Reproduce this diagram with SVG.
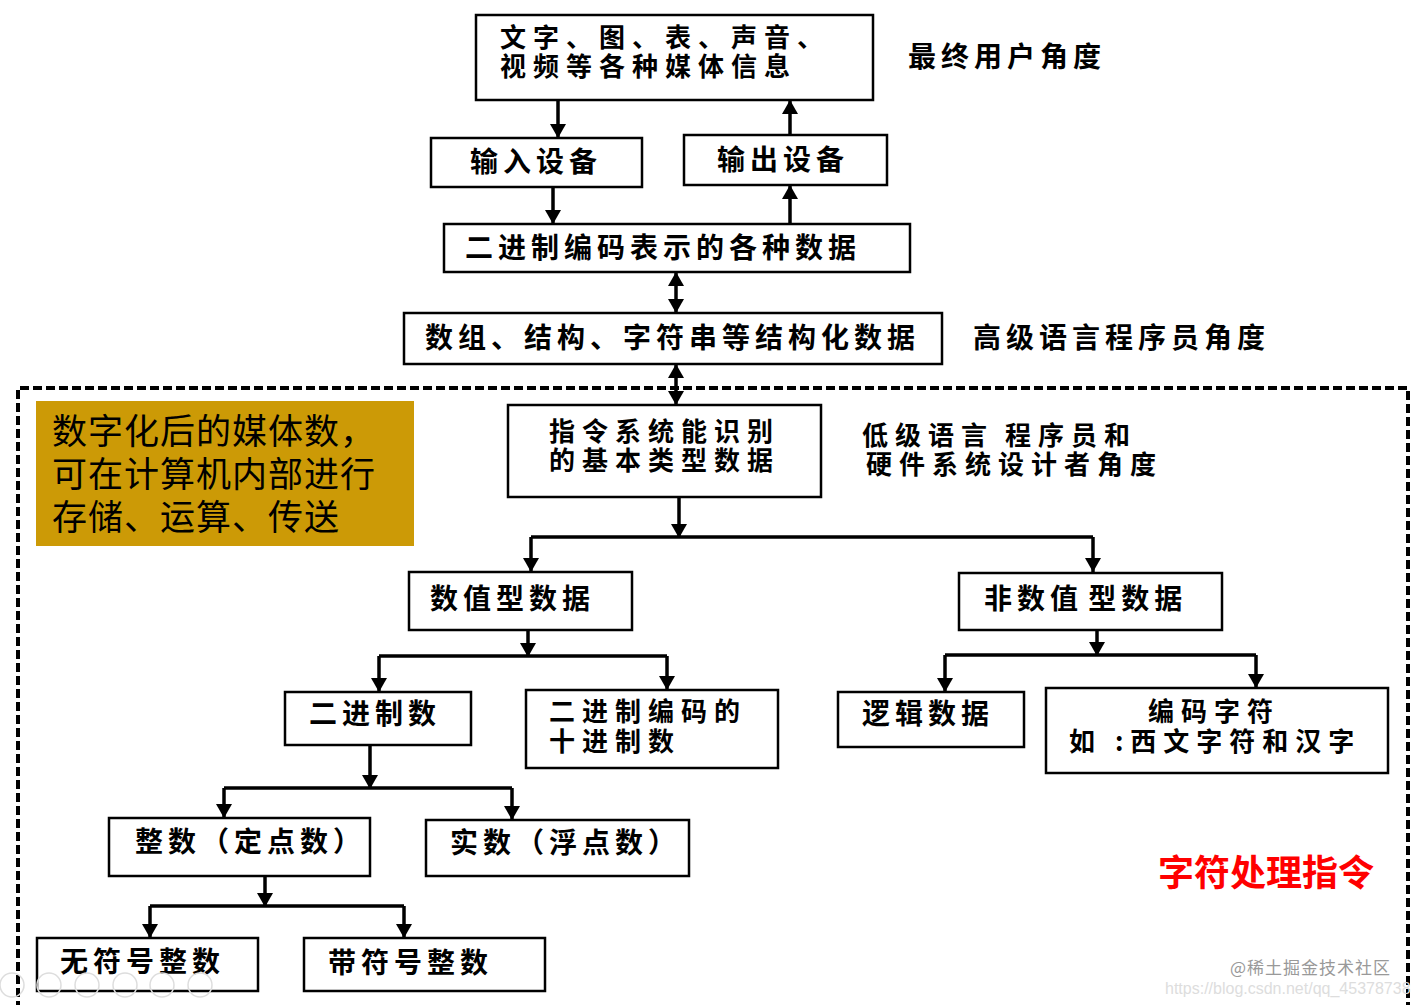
<svg xmlns="http://www.w3.org/2000/svg" width="1417" height="1005" viewBox="0 0 1417 1005">
<defs>
<marker id="ah" viewBox="0 0 14 16" refX="14" refY="8" markerWidth="14" markerHeight="16" markerUnits="userSpaceOnUse" orient="auto-start-reverse">
<path d="M0,0 L14,8 L0,16 z" fill="#000"/>
</marker>
<style>
.box{fill:#fff;stroke:#000;stroke-width:2.5}
.t{font-family:"Noto Sans CJK SC","Noto Sans",sans-serif;font-weight:bold;font-size:28px;letter-spacing:5px;fill:#000}
.t2{font-family:"Noto Sans CJK SC","Noto Sans",sans-serif;font-weight:bold;font-size:26px;letter-spacing:7px;fill:#000}
.n{font-family:"Noto Sans CJK SC",sans-serif;font-size:35px;letter-spacing:1px;fill:#000}
.c{fill:none;stroke:#000;stroke-width:3.5}
.a{fill:none;stroke:#000;stroke-width:3.5;marker-end:url(#ah)}
.d{fill:none;stroke:#000;stroke-width:3.5;marker-start:url(#ah);marker-end:url(#ah)}
</style>
</defs>
<rect width="1417" height="1005" fill="#fff"/>

<!-- dashed region -->
<path d="M18,1010 L18,388 L1408,388 L1408,1010" fill="none" stroke="#000" stroke-width="4" stroke-dasharray="9 4"/>

<g id="connectors">
<line class="a" x1="558" y1="100" x2="558" y2="138"/>
<line class="a" x1="790" y1="135" x2="790" y2="100"/>
<line class="a" x1="553" y1="187" x2="553" y2="224"/>
<line class="a" x1="790" y1="224" x2="790" y2="185"/>
<line class="d" x1="676" y1="272" x2="676" y2="313"/>
<line class="d" x1="676" y1="364" x2="676" y2="405"/>
<line class="a" x1="679" y1="497" x2="679" y2="538"/>
<path class="c" d="M531,537 L1093,537"/>
<line class="a" x1="531" y1="537" x2="531" y2="572"/>
<line class="a" x1="1093" y1="537" x2="1093" y2="572"/>
<line class="a" x1="528" y1="630" x2="528" y2="657"/>
<path class="c" d="M379,656 L667,656"/>
<line class="a" x1="379" y1="656" x2="379" y2="692"/>
<line class="a" x1="667" y1="656" x2="667" y2="690"/>
<line class="a" x1="1097" y1="630" x2="1097" y2="656"/>
<path class="c" d="M945,655 L1256,655"/>
<line class="a" x1="945" y1="655" x2="945" y2="692"/>
<line class="a" x1="1256" y1="655" x2="1256" y2="688"/>
<line class="a" x1="370" y1="745" x2="370" y2="789"/>
<path class="c" d="M224,788 L512,788"/>
<line class="a" x1="224" y1="788" x2="224" y2="818"/>
<line class="a" x1="512" y1="788" x2="512" y2="820"/>
<line class="a" x1="265" y1="876" x2="265" y2="907"/>
<path class="c" d="M150,906 L404,906"/>
<line class="a" x1="150" y1="906" x2="150" y2="938"/>
<line class="a" x1="404" y1="906" x2="404" y2="938"/>
</g>

<g id="media">
<rect class="box" x="476" y="15" width="397" height="85"/>
<text class="t2" x="500" y="47">文字、图、表、声音、</text>
<text class="t2" x="500" y="76">视频等各种媒体信息</text>
</g>
<g id="enduser"><text class="t" x="908" y="67" letter-spacing="6">最终用户角度</text></g>

<g id="input">
<rect class="box" x="431" y="138" width="211" height="49"/>
<text class="t" x="470" y="172">输入设备</text>
</g>
<g id="output">
<rect class="box" x="684" y="135" width="203" height="50"/>
<text class="t" x="717" y="170">输出设备</text>
</g>

<g id="binary">
<rect class="box" x="444" y="224" width="466" height="48"/>
<text class="t" x="465" y="258">二进制编码表示的各种数据</text>
</g>

<g id="struct">
<rect class="box" x="404" y="313" width="538" height="51"/>
<text class="t" x="425" y="348">数组、结构、字符串等结构化数据</text>
</g>
<g id="highlevel"><text class="t" x="973" y="348">高级语言程序员角度</text></g>

<g id="note">
<rect x="36" y="401" width="378" height="145" fill="#CC9A06"/>
<text class="n" x="52" y="444">数字化后的媒体数，</text>
<text class="n" x="52" y="487">可在计算机内部进行</text>
<text class="n" x="52" y="530">存储、运算、传送</text>
</g>

<g id="isa">
<rect class="box" x="508" y="405" width="313" height="92"/>
<text class="t2" x="549" y="441">指令系统能识别</text>
<text class="t2" x="549" y="470">的基本类型数据</text>
</g>
<g id="lowlevel">
<text class="t2" x="862" y="445">低级语言<tspan dx="-2"> 程序员和</tspan></text>
<text class="t2" x="866" y="474">硬件系统设计者角度</text>
</g>

<g id="numeric">
<rect class="box" x="409" y="572" width="223" height="58"/>
<text class="t" x="430" y="609">数值型数据</text>
</g>
<g id="nonnumeric">
<rect class="box" x="959" y="573" width="263" height="57"/>
<text class="t" x="984" y="609" letter-spacing="4">非数值<tspan dx="-6"> 型数据</tspan></text>
</g>

<g id="binnum">
<rect class="box" x="285" y="692" width="186" height="53"/>
<text class="t" x="309" y="724">二进制数</text>
</g>
<g id="bcd">
<rect class="box" x="526" y="690" width="252" height="78"/>
<text class="t2" x="549" y="721">二进制编码的</text>
<text class="t2" x="549" y="751">十进制数</text>
</g>
<g id="logic">
<rect class="box" x="838" y="692" width="186" height="55"/>
<text class="t" x="862" y="724">逻辑数据</text>
</g>
<g id="chars">
<rect class="box" x="1046" y="688" width="342" height="85"/>
<text class="t2" x="1148" y="721">编码字符</text>
<text class="t2" x="1069" y="751">如 :西文字符和汉字</text>
</g>

<g id="integer">
<rect class="box" x="109" y="818" width="261" height="58"/>
<text class="t" x="135" y="852">整数（定点数）</text>
</g>
<g id="real">
<rect class="box" x="426" y="820" width="263" height="56"/>
<text class="t" x="450" y="853">实数（浮点数）</text>
</g>

<g id="unsigned">
<rect class="box" x="37" y="938" width="221" height="53"/>
<text class="t" x="60" y="972">无符号整数</text>
</g>
<g id="signed">
<rect class="box" x="304" y="938" width="241" height="53"/>
<text class="t" x="328" y="973">带符号整数</text>
</g>

<g id="charinstr">
<text x="1158" y="886" font-family="'Noto Sans CJK SC',sans-serif" font-weight="bold" font-size="36" fill="#F00">字符处理指令</text>
</g>

<g id="watermark">
<text x="1230" y="974" font-family="'Noto Sans CJK SC',sans-serif" font-size="17" letter-spacing="1" fill="#999">@稀土掘金技术社区</text>
<text x="1165" y="994" font-family="'Liberation Sans',sans-serif" font-size="16" fill="#ddd">https://blog.csdn.net/qq_45378738</text>
</g>
<g id="toolbar" fill="none" stroke="#ddd" stroke-width="1.5">
<circle cx="12" cy="985" r="12"/>
<circle cx="49" cy="985" r="12"/>
<circle cx="87" cy="985" r="12"/>
<circle cx="125" cy="985" r="12"/>
<circle cx="162" cy="985" r="12"/>
<circle cx="200" cy="985" r="12"/>
</g>
</svg>
